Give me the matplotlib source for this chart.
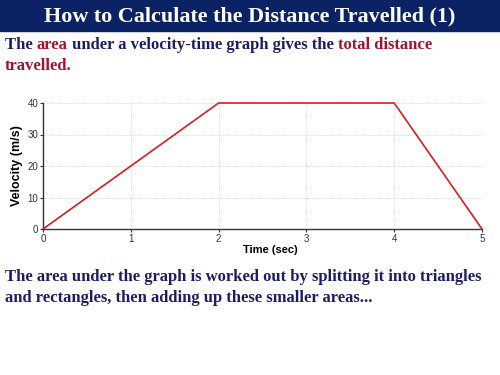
import matplotlib
matplotlib.use("Agg")
import matplotlib.pyplot as plt

# data
time = [0, 2, 4, 5]
velocity = [0, 40, 40, 0]
x_ticks = [0, 1, 2, 3, 4, 5]
y_ticks = [0, 10, 20, 30, 40]

navy = "#1c1c6b"
red = "#a3122e"
bar = "#0b2265"

plt.rcParams["font.family"] = ["Liberation Sans", "DejaVu Sans"]

fig = plt.figure(figsize=(5, 3.75), dpi=100)

# title bar
fig.patches.append(plt.Rectangle((0, 1 - 31 / 375), 1, 31 / 375, transform=fig.transFigure,
                                 color=bar, zorder=0))
fig.text(0.5, 1 - 16 / 375, "How to Calculate the Distance Travelled (1)", ha="center", va="center",
         color="white", fontsize=15.9, fontweight="bold", family="Liberation Serif")


def rich_line(x, y, parts, size):
    # put coloured text pieces one after another
    r = fig.canvas.get_renderer()
    for s, c in parts:
        t = fig.text(x, y, s, color=c, fontsize=size, fontweight="bold",
                     family="Liberation Serif", va="center", ha="left")
        bb = t.get_window_extent(renderer=r)
        x = fig.transFigure.inverted().transform((bb.x1, bb.y0))[0]


rich_line(5 / 500, 1 - 45 / 375, [("The ", navy), ("area", red),
                                   (" under a velocity-time graph gives the ", navy),
                                   ("total distance", red)], 12)
rich_line(5 / 500, 1 - 66 / 375, [("travelled.", red)], 12)

rich_line(5 / 500, 1 - 277 / 375,
          [("The area under the graph is worked out by splitting it into triangles", navy)], 12)
rich_line(5 / 500, 1 - 298 / 375,
          [("and rectangles, then adding up these smaller areas...", navy)], 12)

ax = fig.add_axes([43 / 500, 1 - 229 / 375, 439 / 500, 126 / 375])
ax.plot(time, velocity, color="#d81e1e", lw=1.2, clip_on=False, zorder=3)
ax.set_xlim(0, 5)
ax.set_ylim(0, 40)
ax.set_xticks(x_ticks)
ax.set_yticks(y_ticks)
ax.tick_params(labelsize=7, length=2, colors="#333333", pad=1.5)
ax.grid(True, color="#cccccc", linestyle=(0, (1, 1.5)), lw=0.6)
for s in ["top", "right"]:
    ax.spines[s].set_visible(False)
for s in ["left", "bottom"]:
    ax.spines[s].set_color("#333333")
    ax.spines[s].set_linewidth(1)
ax.set_xlabel("Time (sec)", fontsize=8, fontweight="bold", labelpad=1)
ax.xaxis.set_label_coords(0.517, -0.13)
ax.set_ylabel("Velocity (m/s)", fontsize=9, fontweight="bold", labelpad=3)

fig.savefig("out.png", dpi=100)
